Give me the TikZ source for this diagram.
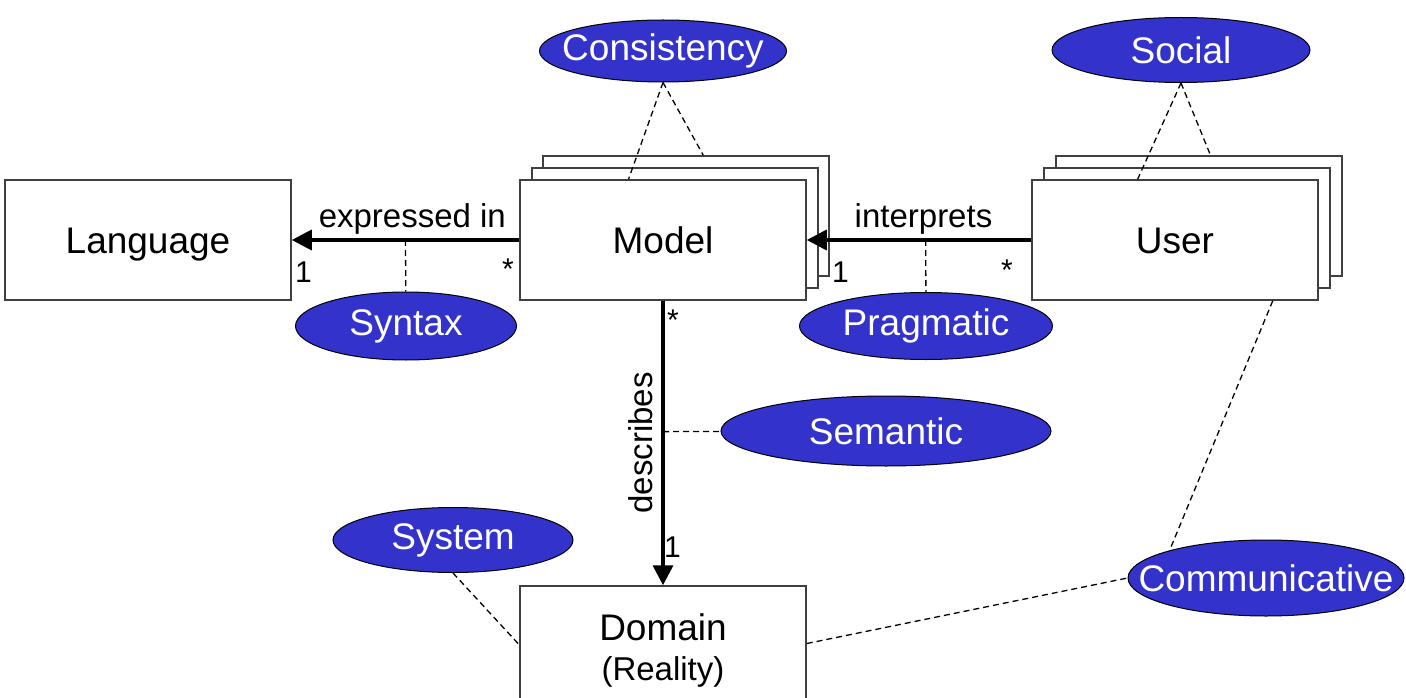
\documentclass[tikz,border=0pt]{standalone}
\usepackage{fontspec}
\setmainfont{Liberation Sans}
\usetikzlibrary{
  positioning,
  arrows.meta,
  calc,
  shapes.geometric
}
\definecolor{qblue}{HTML}{3333CC}
\definecolor{frame}{HTML}{404040}
% keeps the ellipse size independent of the word inside
\newcommand{\qlabel}[1]{\makebox[0pt]{#1}}

\begin{document}
\begin{tikzpicture}[
  x=1pt, y=-1pt,
  entity/.style={draw=frame, line width=1.5pt, fill=white, minimum width=286pt,
                 minimum height=120pt, inner sep=0pt, align=center,
                 text height=27pt, text depth=0pt,
                 font=\fontsize{37}{40}\selectfont},
  quality/.style={ellipse, draw=black, line width=1pt, fill=qblue, text=white,
                  inner sep=0pt, font=\fontsize{37}{40}\selectfont},
  assoc/.style={-{Triangle[length=20pt, width=20pt]}, line width=3.5pt},
  role/.style={anchor=base, inner sep=0pt, font=\fontsize{33}{36}\selectfont},
  mult/.style={inner sep=0pt, font=\fontsize{30}{32}\selectfont},
  link/.style={line width=1.3pt, dash pattern=on 6pt off 4pt}
]
  \useasboundingbox (0,0) rectangle (1406,698);

  % classes (models and users come in stacks)
  \node[entity] (language) at (148,240) {Language};
  \node[entity] (model3) at (686,216) {};
  \node[entity] (model2) at (675,228) {};
  \node[entity] (model) at (663,240) {Model};
  \node[entity] (user3) at (1199,216) {};
  \node[entity] (user2) at (1187,228) {};
  \node[entity] (user) at (1175,240) {User};
  \node[entity, minimum height=128pt, text height=67pt, text depth=7pt] (domain) at (663,650)
    {Domain\\{\fontsize{33}{36}\selectfont (Reality)}};

  % quality types
  \node[quality, minimum width=247pt, minimum height=62pt] (consistency) at (663,51) {\qlabel{Consistency}};
  \node[quality, minimum width=258pt, minimum height=65pt] (social) at (1181,50) {\qlabel{Social}};
  \node[quality, minimum width=221pt, minimum height=68pt] (syntax) at (406,326) {\qlabel{Syntax}};
  \node[quality, minimum width=253pt, minimum height=67pt] (pragmatic) at (926,326) {\qlabel{Pragmatic}};
  \node[quality, minimum width=330pt, minimum height=70pt] (semantic) at (886,431) {\qlabel{Semantic}};
  \node[quality, minimum width=240pt, minimum height=65pt] (system) at (453,540) {\qlabel{System}};
  \node[quality, minimum width=276pt, minimum height=76pt] (communicative) at (1266,578) {\qlabel{Communicative}};

  % associations
  \draw[assoc] (model) -- (language)
    coordinate[pos=.5] (syntaxpt)
    node[role, pos=.47, yshift=13pt] {expressed in};
  \draw[assoc] (user) -- (model)
    coordinate[pos=.47] (pragmapt)
    node[role, pos=.48, yshift=13pt] {interprets};
  \draw[assoc] (model) -- (domain)
    coordinate[pos=.46] (semanticpt)
    node[role, pos=.5, rotate=90, yshift=11pt] {describes};

  % multiplicities
  \node[mult, anchor=base west] (langone) at (295,282) {1};
  \node[mult, anchor=base east] (modelmany) at (514,279) {*};
  \node[mult, anchor=base west] (modelone) at (832,282) {1};
  \node[mult, anchor=base east] (usermany) at (1013,280) {*};
  \node[mult, anchor=base west] (descmany) at (667,330) {*};
  \node[mult, anchor=base west] (domainone) at (664,557) {1};

  % quality links
  \draw[link] (consistency.south) -- ($(model.north west)!.38!(model.north east)$);
  \draw[link] (consistency.south) -- ($(model3.north west)!.56!(model3.north east)$);
  \draw[link] (social.south) -- ($(user.north west)!.37!(user.north east)$);
  \draw[link] (social.south) -- ($(user3.north west)!.54!(user3.north east)$);
  \draw[link] (syntaxpt) -- (syntax);
  \draw[link] (pragmapt) -- (pragmatic);
  \draw[link] (semanticpt) -- (semantic);
  \draw[link] (system.south) -- ($(domain.north west)!.46!(domain.south west)$);
  \draw[link] ($(domain.north east)!.45!(domain.south east)$) -- (communicative.west);
  \draw[link] ($(user.south west)!.84!(user.south east)$) -- (communicative.164);
\end{tikzpicture}
\end{document}
